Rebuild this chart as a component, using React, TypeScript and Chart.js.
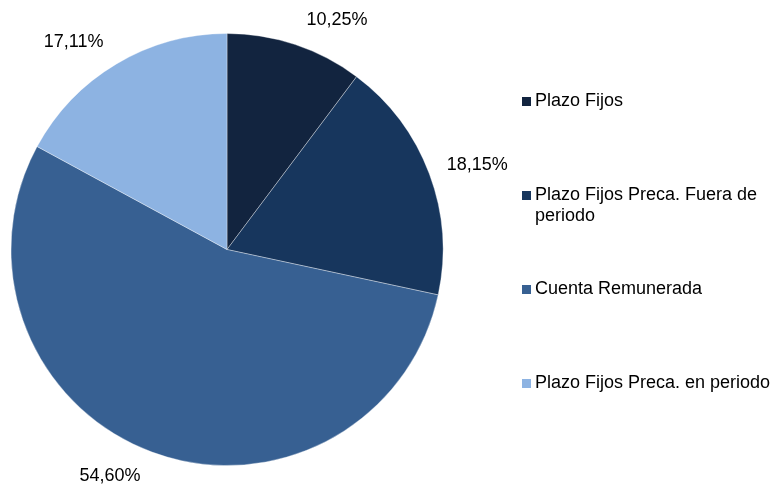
import React, { useEffect, useRef } from "react";
import { Chart, registerables } from "chart.js";

Chart.register(...registerables);

const categories = [
  "Plazo Fijos",
  "Plazo Fijos Preca. Fuera de periodo",
  "Cuenta Remunerada",
  "Plazo Fijos Preca. en periodo",
];
const values = [10.25, 18.15, 54.6, 17.11];
const valueLabels = ["10,25%", "18,15%", "54,60%", "17,11%"];
const colors = ["#12243F", "#17365D", "#376092", "#8DB3E2"];

const FONT = "'Liberation Sans', Arial, sans-serif";

const outsideLabels = {
  id: "outsideLabels",
  afterDatasetsDraw(chart: any) {
    const ctx = chart.ctx;
    const meta = chart.getDatasetMeta(0);
    const W = chart.width;
    const H = chart.height;
    ctx.save();
    ctx.font = `18px ${FONT}`;
    ctx.fillStyle = "#000";
    ctx.textAlign = "center";
    ctx.textBaseline = "middle";
    meta.data.forEach((arc: any, i: number) => {
      const { x, y, startAngle, endAngle, outerRadius } = arc.getProps(
        ["x", "y", "startAngle", "endAngle", "outerRadius"],
        true
      );
      const a = (startAngle + endAngle) / 2;
      const text = valueLabels[i];
      const w = ctx.measureText(text).width;
      const c = Math.cos(a);
      const s = Math.sin(a);
      let cx = x + (outerRadius + 10) * c + Math.sign(c) * (w / 2 + 8);
      let cy = y + (outerRadius + 26) * s;
      cx = Math.max(w / 2 + 2, Math.min(W - w / 2 - 2, cx));
      cy = Math.max(10, Math.min(H - 9, cy));
      ctx.fillText(text, cx, cy);
    });
    ctx.restore();
  },
};

export default function App() {
  const ref = useRef<HTMLCanvasElement | null>(null);
  useEffect(() => {
    if (!ref.current) return;
    const chart = new Chart(ref.current, {
      type: "pie",
      data: {
        labels: categories,
        datasets: [
          {
            data: values,
            backgroundColor: colors,
            borderColor: "rgba(255,255,255,0.35)",
            borderWidth: 1,
          },
        ],
      },
      options: {
        responsive: false,
        animation: false,
        layout: { padding: { left: 10, right: 329, top: 33, bottom: 19 } },
        plugins: {
          legend: { display: false },
          tooltip: { enabled: false },
        },
      },
      plugins: [outsideLabels],
    });
    return () => chart.destroy();
  }, []);

  return (
    <div style={{ position: "fixed", left: 0, top: 0, width: 773, height: 485, background: "#fff" }}>
      <canvas ref={ref} width={773} height={485} style={{ width: 773, height: 485, display: "block" }} />
      <div
        style={{
          position: "absolute",
          left: 522,
          top: 90,
          width: 251,
          fontFamily: FONT,
          fontSize: 18,
          lineHeight: "21px",
          color: "#000",
        }}
      >
        {categories.map((c, i) => (
          <div key={c} style={{ position: "relative", height: 94, paddingLeft: 13 }}>
            <span
              style={{
                position: "absolute",
                left: 0,
                top: 7,
                width: 9,
                height: 9,
                background: colors[i],
              }}
            />
            <div style={{ width: 238 }}>{c}</div>
          </div>
        ))}
      </div>
    </div>
  );
}
